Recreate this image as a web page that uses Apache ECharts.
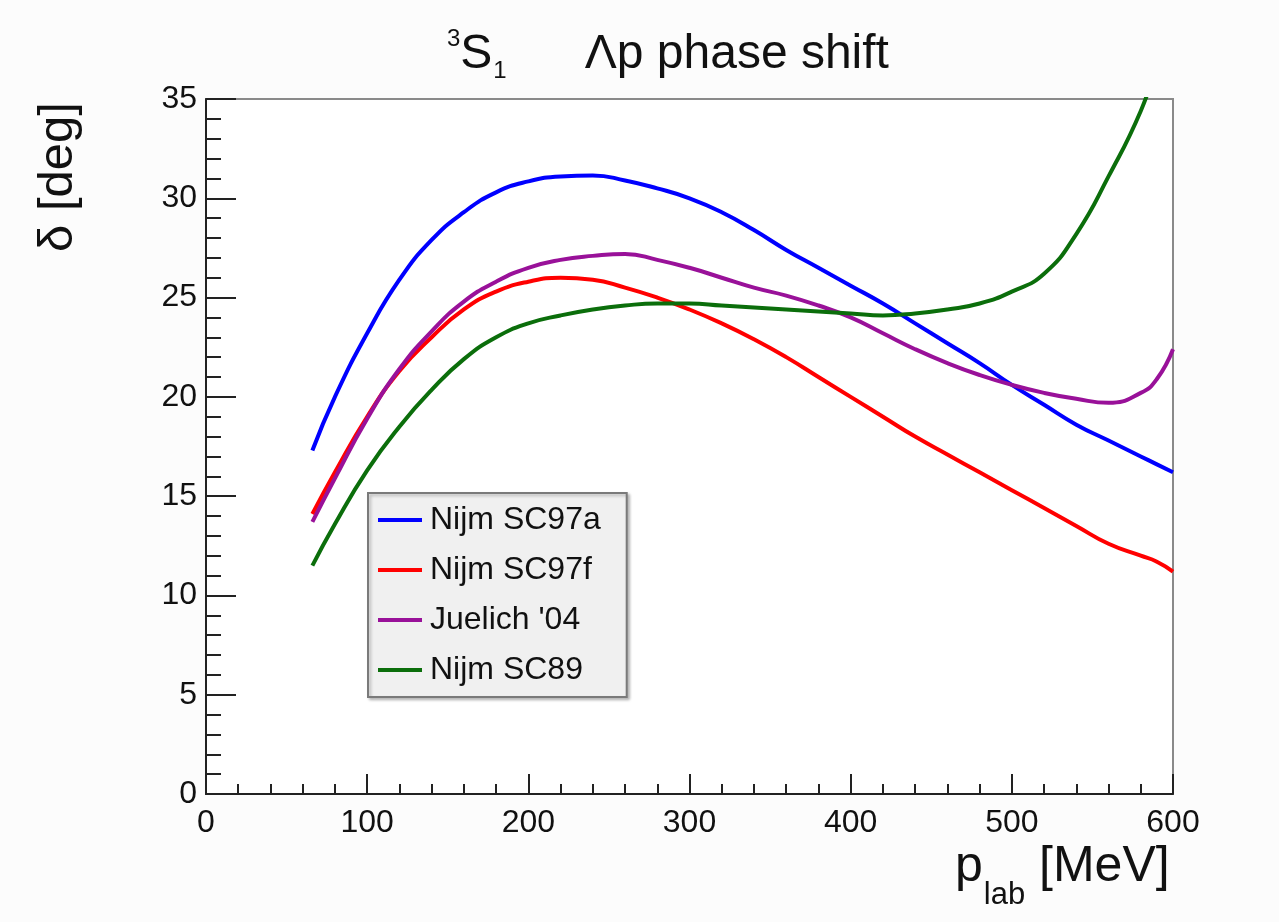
<!DOCTYPE html>
<html>
<head>
<meta charset="utf-8">
<title>3S1 Lambda-p phase shift</title>
<script src="https://cdn.jsdelivr.net/npm/echarts@6/dist/echarts.min.js"></script>
<style>
  html, body { margin: 0; padding: 0; background: #fcfcfc; }
  #chart { width: 1279px; height: 922px; }
</style>
</head>
<body>
<div id="chart"></div>
<script>
  // p_lab grid in MeV (shared by all curves)
  var pLab = [66, 80, 100, 120, 140, 160, 180, 200, 220, 240, 260, 280, 300, 320, 340,
              360, 380, 400, 420, 440, 460, 480, 500, 520, 540, 560, 580, 590, 600];

  // phase shifts in degrees
  var nijmSC97a = [17.3, 20.0, 23.2, 25.9, 27.9, 29.3, 30.3, 30.85, 31.1, 31.15, 30.9, 30.5, 30.0, 29.3, 28.4,
                   27.4, 26.5, 25.6, 24.7, 23.7, 22.7, 21.7, 20.6, 19.6, 18.6, 17.8, 17.0, 16.6, 16.2];
  var nijmSC97f = [14.1, 16.2, 19.0, 21.3, 23.0, 24.4, 25.3, 25.8, 26.0, 25.9, 25.5, 25.0, 24.4, 23.7, 22.9,
                   22.0, 21.0, 20.0, 19.0, 18.0, 17.1, 16.2, 15.3, 14.4, 13.5, 12.6, 12.0, 11.7, 11.2];
  var juelich04 = [13.7, 15.9, 18.9, 21.4, 23.3, 24.8, 25.8, 26.5, 26.9, 27.1, 27.2, 26.9, 26.5, 26.0, 25.5,
                   25.1, 24.6, 24.0, 23.2, 22.4, 21.7, 21.1, 20.6, 20.2, 19.9, 19.7, 20.2, 20.9, 22.4];
  var nijmSC89  = [11.5, 13.6, 16.3, 18.5, 20.35, 21.9, 23.0, 23.7, 24.1, 24.4, 24.6, 24.7, 24.7, 24.6, 24.5,
                   24.4, 24.3, 24.2, 24.1, 24.2, 24.4, 24.7, 25.3, 26.2, 28.2, 31.1, 34.4, 36.8, 39.5];

  var seriesNames = ['Nijm SC97a', 'Nijm SC97f', "Juelich '04", 'Nijm SC89'];
  var seriesColors = ['#0000ff', '#ff0000', '#991199', '#0b6e0b'];
  var seriesValues = [nijmSC97a, nijmSC97f, juelich04, nijmSC89];

  var xTicks = { min: 0, max: 600, interval: 100 };
  var yTicks = { min: 0, max: 35, interval: 5 };

  var font = 'Liberation Sans, Arial, Helvetica, sans-serif';

  function pairs(vals) {
    return pLab.map(function (p, i) { return [p, vals[i]]; });
  }

  var chart = echarts.init(document.getElementById('chart'));

  var option = {
    backgroundColor: '#fcfcfc',
    animation: false,
    title: {
      text: '{sup|3}{big|S}{sub|1}{gap|}{big|Λp phase shift}',
      left: 442,
      top: 22,
      textStyle: {
        rich: {
          big: { fontFamily: font, fontSize: 48, fontWeight: 'normal', color: '#111', lineHeight: 56, verticalAlign: 'middle' },
          sup: { fontFamily: font, fontSize: 24, fontWeight: 'normal', color: '#111', verticalAlign: 'top', lineHeight: 30 },
          sub: { fontFamily: font, fontSize: 24, fontWeight: 'normal', color: '#111', verticalAlign: 'bottom', lineHeight: 18, padding: [0, 0, 0, 1] },
          gap: { width: 78 }
        }
      }
    },
    grid: {
      left: 206,
      top: 99,
      right: 106,
      bottom: 128,
      show: true,
      backgroundColor: '#ffffff',
      borderColor: '#8a8a8a',
      borderWidth: 2
    },
    legend: {
      orient: 'vertical',
      left: 368,
      top: 493,
      data: seriesNames,
      icon: 'rect',
      itemWidth: 44,
      itemHeight: 4,
      itemGap: 18,
      padding: [11, 26, 11, 10],
      backgroundColor: '#f0f0f0',
      borderColor: '#7a7a7a',
      borderWidth: 2,
      shadowColor: 'rgba(0,0,0,0.25)',
      shadowBlur: 3,
      shadowOffsetX: 2,
      shadowOffsetY: 2,
      textStyle: { fontFamily: font, fontSize: 32, color: '#111', lineHeight: 32, padding: [0, 0, 0, 3] }
    },
    xAxis: {
      type: 'value',
      min: xTicks.min,
      max: xTicks.max,
      interval: xTicks.interval,
      axisLine: { lineStyle: { color: '#222', width: 2 } },
      axisTick: { inside: true, length: 20, lineStyle: { color: '#222', width: 2 } },
      minorTick: { show: true, splitNumber: 5, length: 10, lineStyle: { color: '#222', width: 2 } },
      splitLine: { show: false },
      axisLabel: { fontFamily: font, fontSize: 32, color: '#111', margin: 13 }
    },
    yAxis: {
      type: 'value',
      min: yTicks.min,
      max: yTicks.max,
      interval: yTicks.interval,
      axisLine: { show: true, lineStyle: { color: '#222', width: 2 } },
      axisTick: { show: true, inside: true, length: 30, lineStyle: { color: '#222', width: 2 } },
      minorTick: { show: true, splitNumber: 5, length: 15, lineStyle: { color: '#222', width: 2 } },
      splitLine: { show: false },
      axisLabel: { fontFamily: font, fontSize: 32, color: '#111', margin: 9 }
    },
    // axis titles
    graphic: [
      {
        type: 'text',
        left: 955,
        top: 842,
        style: {
          text: '{p|p}{sub|lab}{t| [MeV]}',
          rich: {
            p: { fontFamily: font, fontSize: 50, fill: '#111', lineHeight: 56 },
            sub: { fontFamily: font, fontSize: 31, fill: '#111', verticalAlign: 'bottom', padding: [0, 0, -16, 1] },
            t: { fontFamily: font, fontSize: 50, fill: '#111', lineHeight: 56 }
          }
        }
      },
      {
        type: 'text',
        x: 34,
        y: 252,
        rotation: Math.PI / 2,
        style: {
          text: 'δ [deg]',
          fontFamily: font,
          fontSize: 49,
          fill: '#111',
          align: 'left',
          verticalAlign: 'top'
        }
      }
    ],
    series: seriesNames.map(function (name, i) {
      return {
        name: name,
        type: 'line',
        data: pairs(seriesValues[i]),
        smooth: 0.5,
        symbol: 'none',
        clip: true,
        color: seriesColors[i],
        lineStyle: { color: seriesColors[i], width: 4 }
      };
    })
  };

  chart.setOption(option);
</script>
</body>
</html>
